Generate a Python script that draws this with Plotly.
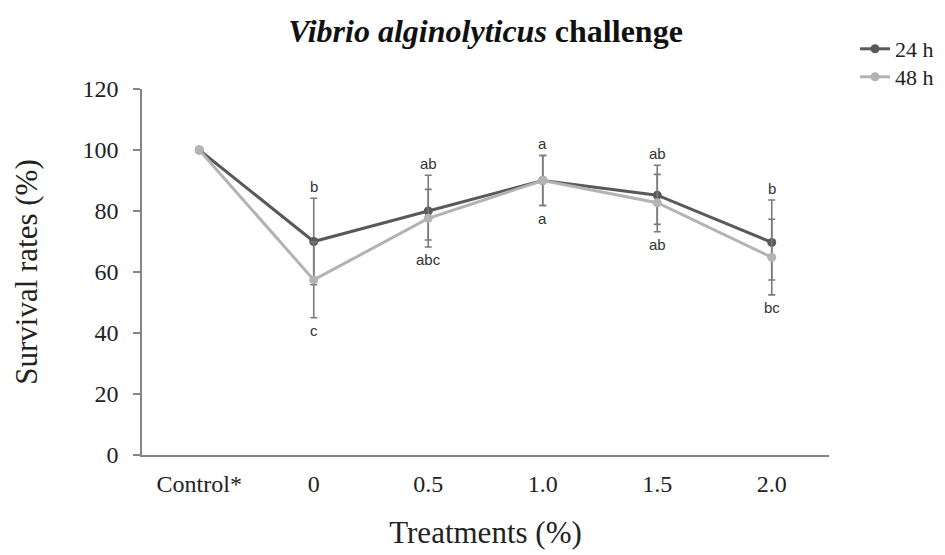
import plotly.graph_objects as go

categories = ["Control*", "0", "0.5", "1.0", "1.5", "2.0"]
series_names = ["24 h", "48 h"]

survival_24h = [100, 70, 80, 90, 85.2, 69.7]
err_plus_24h = [0, 14.2, 11.7, 8.2, 9.8, 13.9]
err_minus_24h = [0, 14.2, 11.8, 8.2, 9.6, 12.3]

survival_48h = [100, 57.4, 77.6, 90, 82.7, 64.8]
err_plus_48h = [0, 12.4, 9.5, 8.2, 9.3, 12.5]
err_minus_48h = [0, 12.4, 7.1, 8.2, 9.5, 12.3]

labels_top = ["", "b", "ab", "a", "ab", "b"]
labels_bottom = ["", "c", "abc", "a", "ab", "bc"]

y_ticks = [0, 20, 40, 60, 80, 100, 120]

SERIF = "Liberation Serif, Times New Roman, serif"
SANS = "Liberation Sans, Arial, sans-serif"

# page body adds an 8px margin, so the figure is slightly smaller
W, H = 937, 547
L, T, PW, PH = 134, 81, 687, 366

fig = go.Figure()
specs = [
    (series_names[0], survival_24h, err_plus_24h, err_minus_24h, "#595959", "legend"),
    (series_names[1], survival_48h, err_plus_48h, err_minus_48h, "#b3b3b3", "legend2"),
]
for name, vals, ep, em, col, lg in specs:
    fig.add_trace(go.Scatter(
        x=categories, y=vals, name=name, mode="lines+markers",
        line=dict(color=col, width=3),
        marker=dict(color=col, size=9),
        legend=lg, showlegend=True,
        error_y=dict(type="data", symmetric=False, array=ep, arrayminus=em,
                     color="#7a7a7a", thickness=1.6, width=3.5),
    ))

for i in range(len(categories)):
    ups = [survival_24h[i] + err_plus_24h[i], survival_48h[i] + err_plus_48h[i]]
    lows = [survival_24h[i] - err_minus_24h[i], survival_48h[i] - err_minus_48h[i]]
    if labels_top[i]:
        fig.add_annotation(x=i, y=max(ups), text=labels_top[i], showarrow=False,
                           yanchor="bottom", yshift=1,
                           font=dict(family=SANS, size=15, color="#333333"))
    if labels_bottom[i]:
        fig.add_annotation(x=i, y=min(lows), text=labels_bottom[i], showarrow=False,
                           yanchor="top", yshift=-2,
                           font=dict(family=SANS, size=15, color="#333333"))

leg_common = dict(
    x=(847 - L) / PW, xanchor="left", yanchor="middle",
    font=dict(family=SERIF, size=22, color="#222222"),
    bgcolor="rgba(0,0,0,0)", itemwidth=30, visible=True,
)

fig.update_layout(
    width=W, height=H, showlegend=True,
    margin=dict(l=L, r=W - L - PW, t=T, b=H - T - PH, autoexpand=False),
    plot_bgcolor="white", paper_bgcolor="white",
    title=dict(
        text="<b><i>Vibrio alginolyticus</i> challenge</b>",
        x=(L + PW / 2) / W, xanchor="center", y=1 - 23 / H, yanchor="middle",
        font=dict(family=SERIF, size=32, color="#111111"),
    ),
    legend=dict(y=(T + PH - 41) / PH, **leg_common),
    legend2=dict(y=(T + PH - 69) / PH, **leg_common),
    xaxis=dict(
        type="category", range=[-0.5, 5.5],
        showline=True, linecolor="#858585", linewidth=1.5,
        ticks="", showgrid=False, zeroline=False,
        tickfont=dict(family=SERIF, size=24, color="#222222"),
        ticklabelstandoff=6,
        title=dict(text="Treatments (%)", standoff=26,
                   font=dict(family=SERIF, size=31, color="#222222")),
    ),
    yaxis=dict(
        range=[0, 120], tickvals=y_ticks,
        showline=True, linecolor="#858585", linewidth=1.5,
        ticks="outside", ticklen=7, tickcolor="#858585", tickwidth=1.5,
        showgrid=False, zeroline=False,
        tickfont=dict(family=SERIF, size=24, color="#222222"),
        ticklabelstandoff=10,
        title=dict(text="Survival rates (%)", standoff=36,
                   font=dict(family=SERIF, size=31, color="#222222")),
    ),
)

fig.write_html("out.html")
